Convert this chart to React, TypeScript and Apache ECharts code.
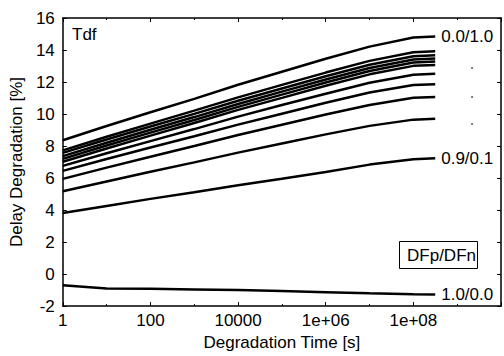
import React, { useEffect, useRef } from "react";
import * as echarts from "echarts";

// Degradation time [s]
const times = [1, 10, 100, 1e3, 1e4, 1e5, 1e6, 1e7, 1e8, 3.15e8];

// Delay degradation [%] per DFp/DFn curve (top to bottom)
const curve01 = [8.36, 9.25, 10.11, 10.95, 11.83, 12.64, 13.45, 14.21, 14.78, 14.84];
const curve02 = [7.73, 8.58, 9.4, 10.21, 11.04, 11.82, 12.59, 13.32, 13.86, 13.92];
const curve03 = [7.57, 8.41, 9.22, 10.01, 10.83, 11.6, 12.36, 13.08, 13.61, 13.67];
const curve04 = [7.37, 8.21, 9.02, 9.81, 10.63, 11.4, 12.16, 12.88, 13.41, 13.47];
const curve05 = [7.2, 8.03, 8.84, 9.63, 10.45, 11.21, 11.97, 12.69, 13.22, 13.28];
const curve06 = [7.02, 7.85, 8.65, 9.44, 10.26, 11.01, 11.77, 12.48, 13.01, 13.07];
const curve07 = [6.76, 7.55, 8.31, 9.06, 9.84, 10.56, 11.27, 11.95, 12.45, 12.51];
const curve08 = [6.45, 7.19, 7.91, 8.61, 9.34, 10.02, 10.7, 11.34, 11.81, 11.86];
const curve09 = [5.95, 6.65, 7.33, 8.0, 8.69, 9.33, 9.97, 10.57, 11.02, 11.07];
const curve10 = [5.17, 5.79, 6.39, 6.98, 7.59, 8.16, 8.73, 9.26, 9.65, 9.7];
const curve11 = [3.81, 4.26, 4.7, 5.12, 5.55, 5.96, 6.38, 6.84, 7.18, 7.24];
const curve12 = [-0.7, -0.9, -0.92, -0.96, -1.0, -1.06, -1.13, -1.2, -1.26, -1.27];

const curves = [curve01, curve02, curve03, curve04, curve05, curve06, curve07, curve08, curve09, curve10, curve11, curve12];
const endLabels = ["0.0/1.0", "", "", "", "", "", "", "", "", "", "0.9/0.1", "1.0/0.0"];

// x tick labels at even decades (exponent -> label)
const xTickLabels: Record<number, string> = { 0: "1", 2: "100", 4: "10000", 6: "1e+06", 8: "1e+08", 10: "" };

const FONT = "'Liberation Sans', Arial, Helvetica, sans-serif";
const FS = 17;

export default function App() {
  const ref = useRef<HTMLDivElement>(null);
  useEffect(() => {
    if (!ref.current) return;
    const chart = echarts.init(ref.current, undefined, { renderer: "svg" });
    const axisLine = { show: true, onZero: false, lineStyle: { color: "#000", width: 1.5 } };
    const xCommon = {
      type: "value" as const,
      min: 0,
      max: 10,
      interval: 2,
      axisLine,
      splitLine: { show: false },
      axisTick: { show: true, inside: true, length: 4, lineStyle: { color: "#000", width: 1 } },
      minorTick: { show: true, splitNumber: 2, length: 2, lineStyle: { color: "#000", width: 1 } },
      minorSplitLine: { show: false },
    };
    const yCommon = {
      type: "value" as const,
      min: -2,
      max: 16,
      interval: 2,
      axisLine,
      splitLine: { show: false },
      axisTick: { show: true, inside: true, length: 4, lineStyle: { color: "#000", width: 1 } },
    };
    chart.setOption({
      animation: false,
      textStyle: { fontFamily: FONT },
      grid: { left: 59, right: -1, top: 18, bottom: 42, containLabel: false },
      xAxis: [
        {
          ...xCommon,
          position: "bottom",
          name: "Degradation Time [s]",
          nameLocation: "middle",
          nameGap: 25,
          nameTextStyle: { color: "#000", fontSize: FS, fontFamily: FONT },
          axisLabel: {
            show: true,
            color: "#000",
            fontSize: FS,
            fontFamily: FONT,
            margin: 6,
            formatter: (v: number) => xTickLabels[v] ?? "",
          },
        },
        { ...xCommon, position: "top", axisLabel: { show: false } },
      ],
      yAxis: [
        {
          ...yCommon,
          position: "left",
          name: "Delay Degradation [%]",
          nameLocation: "middle",
          nameGap: 33,
          nameTextStyle: { color: "#000", fontSize: FS, fontFamily: FONT },
          axisLabel: { show: true, color: "#000", fontSize: FS, fontFamily: FONT, margin: 8 },
        },
        { ...yCommon, position: "right", axisLabel: { show: false } },
      ],
      series: curves.map((vals, i) => ({
        type: "line",
        xAxisIndex: 0,
        yAxisIndex: 0,
        data: times.map((t, k) => [Math.log10(t), vals[k]]),
        showSymbol: false,
        symbol: "none",
        lineStyle: { color: "#000", width: 2.5 },
        itemStyle: { color: "#000" },
        endLabel: endLabels[i]
          ? {
              show: true,
              formatter: endLabels[i],
              color: "#000",
              fontSize: FS,
              fontFamily: FONT,
              distance: 6,
            }
          : { show: false },
        silent: true,
      })),
      graphic: [
        {
          type: "text",
          left: 72,
          top: 26,
          style: { text: "Tdf", fill: "#000", fontSize: FS, fontFamily: FONT },
        },
        {
          type: "rect",
          shape: { x: 399.5, y: 241.5, width: 78, height: 27 },
          style: { fill: "none", stroke: "#000", lineWidth: 1 },
        },
        {
          type: "text",
          x: 476,
          y: 255,
          style: {
            text: "DFp/DFn",
            fill: "#000",
            fontSize: FS,
            fontFamily: FONT,
            align: "right",
            verticalAlign: "middle",
          },
        },
        { type: "circle", shape: { cx: 472, cy: 68, r: 0.9 }, style: { fill: "#444" } },
        { type: "circle", shape: { cx: 472, cy: 97, r: 0.9 }, style: { fill: "#444" } },
        { type: "circle", shape: { cx: 472, cy: 124, r: 0.9 }, style: { fill: "#444" } },
      ],
    });
    return () => chart.dispose();
  }, []);
  return (
    <div
      ref={ref}
      style={{ position: "fixed", left: 0, top: 0, width: 504, height: 356, background: "#fff" }}
    />
  );
}
